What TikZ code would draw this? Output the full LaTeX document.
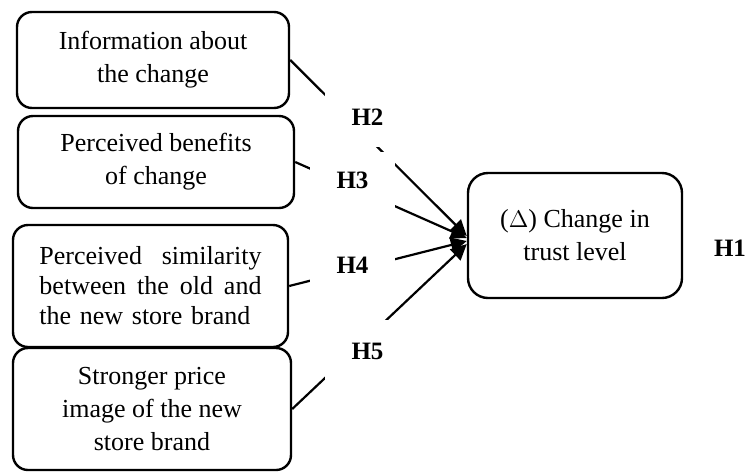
\documentclass[tikz,border=0pt]{standalone}
\usepackage{fontspec}
\setmainfont{Liberation Serif}
\usetikzlibrary{arrows.meta}
\begin{document}
\begin{tikzpicture}[x=0.5pt,y=-0.5pt,
  factor/.style={draw, line width=1.2pt, rounded corners=7.5pt, align=center,
    font=\fontsize{13pt}{16.5pt}\selectfont, inner sep=0pt},
  conn/.style={line width=1.1pt, -{Triangle[length=8pt,width=7.5pt]}},
  hyp/.style={fill=white, font=\fontsize{12.5pt}{15pt}\selectfont\bfseries,
    minimum width=42.5pt, inner sep=0pt}]
\useasboundingbox (0,0) rectangle (749,472);
\node[factor, minimum width=136pt, minimum height=48pt] (b1) at (153,60)
  {Information about\\the change};
\node[factor, minimum width=138pt, minimum height=46pt] (b2) at (156,162)
  {Perceived benefits\\of change};
\node[factor, minimum width=137.5pt, minimum height=61pt, align=left,
  text width=111pt, font=\fontsize{13pt}{15pt}\selectfont] (b3) at (150.5,286)
  {Perceived\hfill similarity\\ between\hfill the\hfill old\hfill and\\ the new store brand};
\node[factor, minimum width=139pt, minimum height=61pt] (b4) at (152,409)
  {Stronger price\\image of the new\\store brand};
\node[factor, rounded corners=10pt, minimum width=107pt, minimum height=62.5pt] (t) at (575,235.5)
  {($\Delta$) Change in\\trust level};
\draw[conn] (b1.east) -- ([yshift=-0.25pt]t.west);
\draw[conn] (b2.east) -- ([yshift=-1.25pt]t.west);
\draw[conn] (b3.east) -- ([yshift=-2.75pt]t.west);
\draw[conn] (b4.east) -- ([yshift=-4.25pt]t.west);
\node[hyp, minimum height=29.5pt] (h2) at (367.5,117.5) {H2};
\node[hyp, minimum height=28pt] (h3) at (352.5,180) {H3};
\node[hyp, minimum height=28pt] (h4) at (352.5,265) {H4};
\node[hyp, minimum height=31pt] (h5) at (367.5,351) {H5};
\node[font=\fontsize{12.5pt}{15pt}\selectfont\bfseries, inner sep=0pt] (h1) at (730,248) {H1};
\end{tikzpicture}
\end{document}
